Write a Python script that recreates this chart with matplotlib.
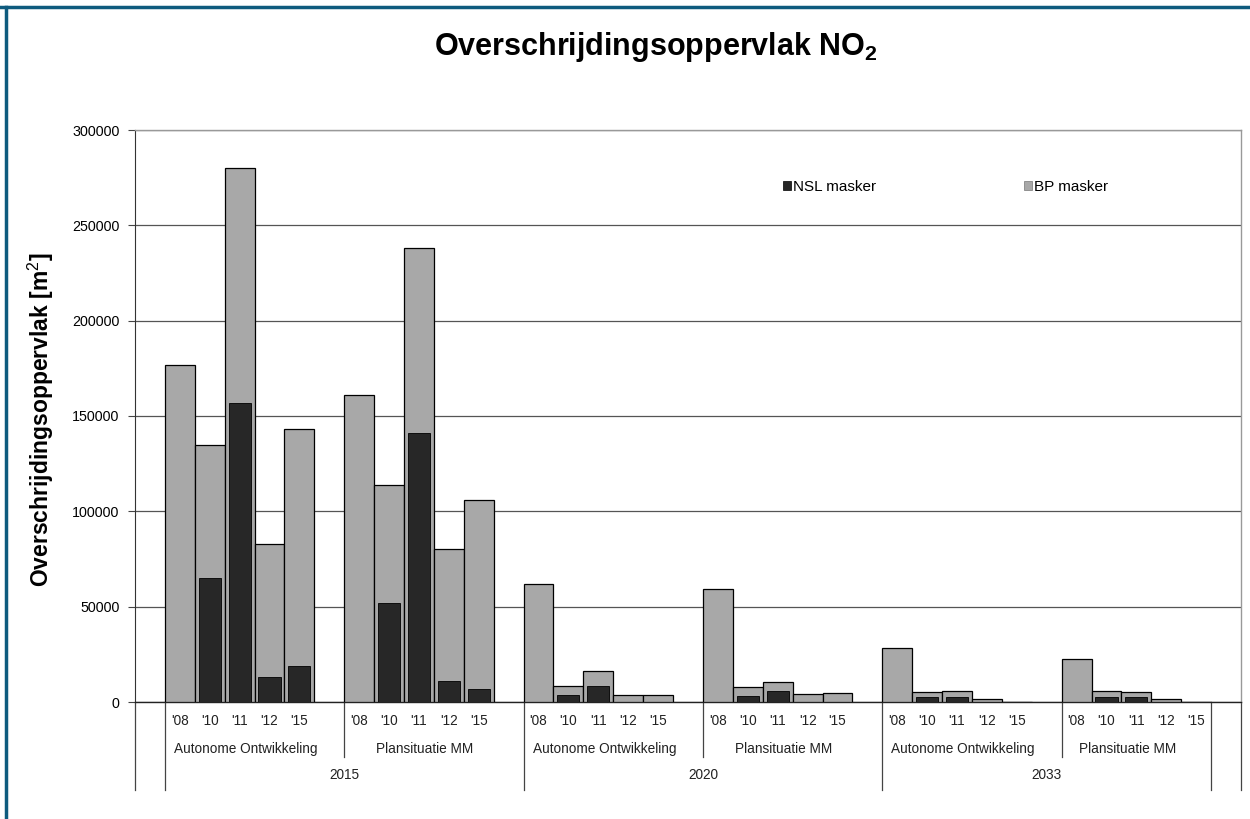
import matplotlib
matplotlib.use("Agg")
import matplotlib.pyplot as plt
from matplotlib.patches import Patch
from matplotlib.lines import Line2D

plt.rcParams['font.family'] = ['Liberation Sans', 'DejaVu Sans']
plt.rcParams['mathtext.fontset'] = 'custom'
plt.rcParams['mathtext.rm'] = 'Liberation Sans'
plt.rcParams['mathtext.bf'] = 'Liberation Sans:bold'

# ---- data ----
years = ["'08", "'10", "'11", "'12", "'15"]
scenarios = ["Autonome Ontwikkeling", "Plansituatie MM"]
horizons = ["2015", "2020", "2033"]

bp_2015_ao = [177000, 135000, 280000, 83000, 143000]
nsl_2015_ao = [0, 65000, 157000, 13000, 19000]
bp_2015_pm = [161000, 114000, 238000, 80000, 106000]
nsl_2015_pm = [0, 52000, 141000, 11000, 7000]
bp_2020_ao = [62000, 8500, 16000, 3500, 3500]
nsl_2020_ao = [0, 3500, 8500, 0, 0]
bp_2020_pm = [59500, 8000, 10500, 4000, 4800]
nsl_2020_pm = [0, 3300, 6000, 0, 0]
bp_2033_ao = [28500, 5000, 6000, 1500, 0]
nsl_2033_ao = [0, 2500, 2700, 0, 0]
bp_2033_pm = [22500, 6000, 5300, 1400, 0]
nsl_2033_pm = [0, 2500, 2500, 0, 0]

bp_groups = [bp_2015_ao, bp_2015_pm, bp_2020_ao, bp_2020_pm, bp_2033_ao, bp_2033_pm]
nsl_groups = [nsl_2015_ao, nsl_2015_pm, nsl_2020_ao, nsl_2020_pm, nsl_2033_ao, nsl_2033_pm]

gray = '#a8a8a8'
dark = '#272727'

fig = plt.figure(figsize=(12.5, 8.19), dpi=100)
ax = fig.add_axes([135/1250, 1-702/819, 1106/1250, 572/819])

xs_all, bp_all, nsl_all, lbl_all = [], [], [], []
for g in range(6):
    for k in range(5):
        xs_all.append(1 + 6*g + k + 0.5)
        bp_all.append(bp_groups[g][k])
        nsl_all.append(nsl_groups[g][k])
        lbl_all.append(years[k])

ax.bar(xs_all, bp_all, width=1.0, color=gray, edgecolor='black', linewidth=0.9, zorder=3)
ax.bar(xs_all, nsl_all, width=0.74, color=dark, edgecolor='black', linewidth=0.6, zorder=4)

ax.set_xlim(0, 37)
ax.set_ylim(0, 300000)
ax.set_yticks(range(0, 300001, 50000))
ax.set_yticklabels([str(v) for v in range(0, 300001, 50000)], fontsize=10.3)
ax.tick_params(axis='y', direction='out', length=5, width=0.8, color='#444444', pad=6)
ax.set_xticks([])
ax.yaxis.grid(True, color='#555555', linewidth=0.9, zorder=0)
ax.set_axisbelow(True)
for s in ['top', 'right']:
    ax.spines[s].set_color('#999999')
    ax.spines[s].set_linewidth(1.0)
ax.spines['left'].set_color('#333333')
ax.spines['bottom'].set_color('#222222')
ax.spines['bottom'].set_linewidth(1.0)

tr = ax.get_xaxis_transform()
# year tick labels
for x, l in zip(xs_all, lbl_all):
    ax.text(x, -0.033, l, transform=tr, ha='center', va='center', fontsize=9.8, color='#222222')
# scenario labels
for g in range(6):
    start = 1 + 6*g
    end = start + 6 if g < 5 else start + 5
    ax.text((start + end)/2 - 0.3, -0.082, scenarios[g % 2], transform=tr, ha='center', va='center',
            fontsize=9.8, color='#222222')
for xb in [7, 19, 31]:
    ax.add_line(Line2D([xb, xb], [0, -0.096], transform=tr, color='#444444', lw=0.9, clip_on=False))
for xb in [0, 1, 13, 25, 36, 37]:
    ax.add_line(Line2D([xb, xb], [0, -0.154], transform=tr, color='#444444', lw=0.9, clip_on=False))
for h, (a, b) in zip(horizons, [(1, 13), (13, 25), (25, 36)]):
    ax.text((a + b)/2, -0.128, h, transform=tr, ha='center', va='center', fontsize=9.8, color='#222222')

handles = [Patch(facecolor=dark, edgecolor='black', linewidth=0.5, label='NSL masker'),
           Patch(facecolor=gray, edgecolor='#777777', linewidth=0.5, label='BP masker')]
ax.legend(handles=handles, ncol=2, loc='center left', bbox_to_anchor=((783-135)/1106, (702-187)/572),
          frameon=False, borderpad=0, borderaxespad=0,
          fontsize=11, handlelength=0.5, handleheight=0.5, handletextpad=0.15, columnspacing=9.7)

fig.text(656/1250, 1-47/819, r'Overschrijdingsoppervlak NO$_\mathbf{2}$', ha='center', va='center',
         fontsize=22, fontweight='bold')
fig.text(41/1250, 1-420/819, r'Overschrijdingsoppervlak [m$^2$]', rotation=90, ha='center', va='center',
         fontsize=16.5, fontweight='bold')

border = '#0e5b7e'
fig.add_artist(Line2D([0, 1], [1-7/819, 1-7/819], transform=fig.transFigure, color=border, lw=2.5))
fig.add_artist(Line2D([6/1250, 6/1250], [0, 1-7/819], transform=fig.transFigure, color=border, lw=2.5))

fig.savefig('out.png', dpi=100, facecolor='white')
